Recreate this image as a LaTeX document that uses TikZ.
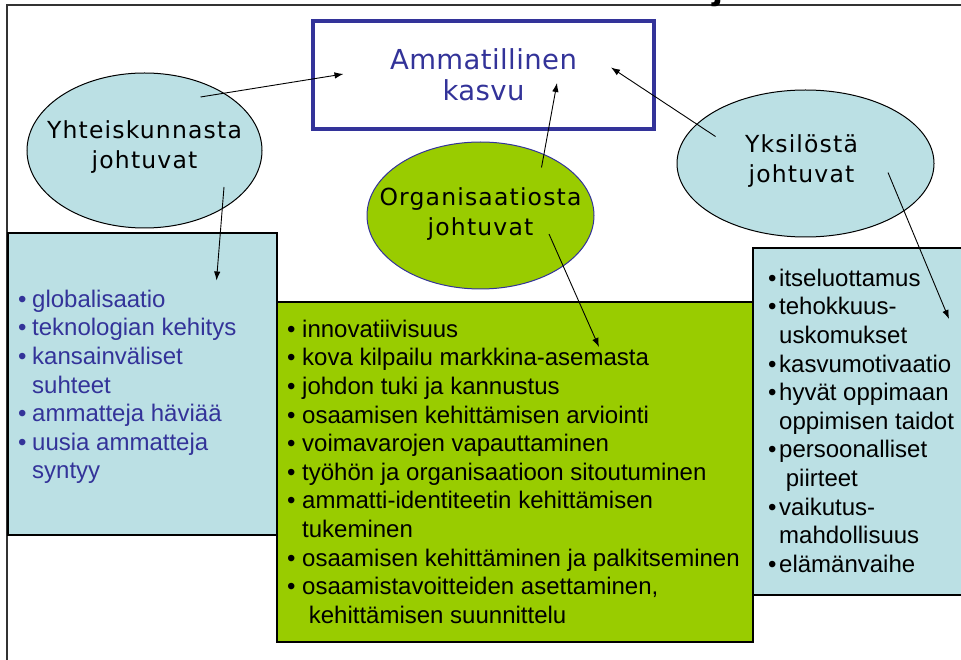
\documentclass[tikz,border=0pt]{standalone}
\usepackage{xcolor}
\usepackage{fontspec}
\setmainfont{Liberation Sans}
\newfontfamily\kuplafontti[LetterSpace=5]{DejaVu Sans}
\newfontfamily\otsikkofontti[LetterSpace=1.5]{DejaVu Sans}
\usepackage{tikz}
\usetikzlibrary{shapes.geometric,arrows.meta}

\definecolor{vaaleansininen}{RGB}{187,224,228}
\definecolor{omenanvihrea}{RGB}{153,204,0}
\definecolor{tummansininen}{RGB}{51,51,153}

\newcommand{\kohta}[2][14pt]{\strut\makebox[#1][l]{•}#2}
\newcommand{\jatko}[2][14pt]{\strut\hspace*{#1}#2}

\begin{document}
\begin{tikzpicture}[
    x=1pt, y=-1pt,
    >={Latex[length=9pt,width=6.5pt]},
    every node/.style={inner sep=0pt},
    kuplateksti/.style={align=center, font=\kuplafontti\fontsize{23.5}{30}\selectfont},
    lista/.style={anchor=north west, align=left, font=\fontsize{24}{28.6}\selectfont}
]
\tikzstyle{kupla} = [ellipse, draw, line width=1pt]
\tikzstyle{laatikko} = [rectangle, draw, line width=1.2pt]
\tikzstyle{nuoli} = [->, line width=0.9pt]
\useasboundingbox (0,0) rectangle (961,660);

% frame of the slide
\draw[line width=1.2pt, black!80] (7,670) -- (7,5) -- (970,5);
\node[font=\fontsize{40}{48}\selectfont\bfseries, anchor=base] (otsikkoj) at (718,-1) {j};

% boxes with the lists
\node[laatikko, fill=vaaleansininen, minimum width=269pt, minimum height=302pt] (yhtlaatikko) at (142.5,384) {};
\node[laatikko, fill=omenanvihrea, minimum width=476pt, minimum height=340pt] (orglaatikko) at (515,472) {};
\node[laatikko, fill=vaaleansininen, minimum width=222pt, minimum height=347pt] (ykslaatikko) at (864,421.5) {};

\node[lista, text=tummansininen] (yhtlista) at (18,287) {
  \kohta{globalisaatio}\\
  \kohta{teknologian kehitys}\\
  \kohta{kansainväliset}\\
  \jatko{suhteet}\\
  \kohta{ammatteja häviää}\\
  \kohta{uusia ammatteja}\\
  \jatko{syntyy}};
\node[lista] (orglista) at (287,317) {
  \kohta[15pt]{innovatiivisuus}\\
  \kohta[15pt]{kova kilpailu markkina-asemasta}\\
  \kohta[15pt]{johdon tuki ja kannustus}\\
  \kohta[15pt]{osaamisen kehittämisen arviointi}\\
  \kohta[15pt]{voimavarojen vapauttaminen}\\
  \kohta[15pt]{työhön ja organisaatioon sitoutuminen}\\
  \kohta[15pt]{ammatti-identiteetin kehittämisen}\\
  \jatko[15pt]{tukeminen}\\
  \kohta[15pt]{osaamisen kehittäminen ja palkitseminen}\\
  \kohta[15pt]{osaamistavoitteiden asettaminen,}\\
  \jatko[15pt]{\ kehittämisen suunnittelu}};
\node[lista] (ykslista) at (768,266) {
  \kohta[11pt]{itseluottamus}\\
  \kohta[11pt]{tehokkuus-}\\
  \jatko[11pt]{uskomukset}\\
  \kohta[11pt]{kasvumotivaatio}\\
  \kohta[11pt]{hyvät oppimaan}\\
  \jatko[11pt]{oppimisen taidot}\\
  \kohta[11pt]{persoonalliset}\\
  \jatko[11pt]{\ piirteet}\\
  \kohta[11pt]{vaikutus-}\\
  \jatko[11pt]{mahdollisuus}\\
  \kohta[11pt]{elämänvaihe}};

% the three sources
\node[kupla, fill=vaaleansininen, minimum width=235pt, minimum height=155pt] (yhteiskunta) at (144.5,150.5) {};
\node[kuplateksti] (yhtteksti) at ([yshift=3pt]yhteiskunta.center) {Yhteiskunnasta\\johtuvat};
\node[kupla, draw=tummansininen, fill=omenanvihrea, minimum width=227pt, minimum height=147pt] (organisaatio) at (480.5,215.5) {};
\node[kuplateksti] (orgteksti) at ([yshift=1pt]organisaatio.center) {Organisaatiosta\\johtuvat};
\node[kupla, fill=vaaleansininen, minimum width=257pt, minimum height=147pt] (yksilo) at (805.5,163.5) {};
\node[kuplateksti] (yksteksti) at ([xshift=-4pt, yshift=2pt]yksilo.center) {Yksilöstä\\johtuvat};

\node[laatikko, draw=tummansininen, line width=3.5pt, fill=white, minimum width=341pt, minimum height=108pt,
      text=tummansininen, align=center, font=\otsikkofontti\fontsize{27.5}{31}\selectfont] (kasvu) at (483.5,75) {Ammatillinen\\kasvu};

% arrows
\draw[nuoli] ([shift={(56,-53.5)}]yhteiskunta.center) -- ([shift={(-140,-1)}]kasvu.center);
\draw[nuoli] ([shift={(61,-48)}]organisaatio.center) -- ([shift={(73.5,8)}]kasvu.center);
\draw[nuoli] ([shift={(-90,-27)}]yksilo.center) -- ([shift={(127.5,-7.5)}]kasvu.center);
\draw[nuoli] ([shift={(79.5,36.5)}]yhteiskunta.center) -- ([shift={(74,-103.5)}]yhtlaatikko.center);
\draw[nuoli] ([shift={(68.5,18.5)}]organisaatio.center) -- ([shift={(84,-125)}]orglaatikko.center);
\draw[nuoli] ([shift={(82.5,9)}]yksilo.center) -- ([shift={(85,-102.5)}]ykslaatikko.center);
\end{tikzpicture}
\end{document}
